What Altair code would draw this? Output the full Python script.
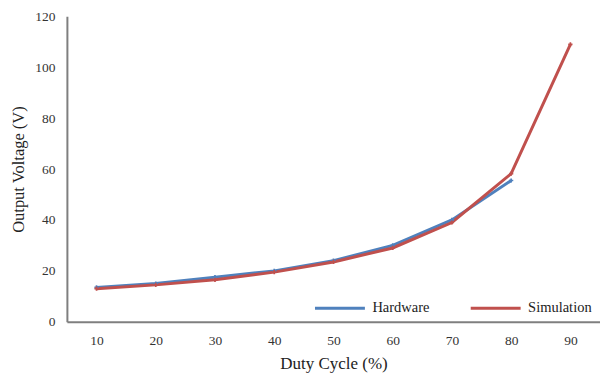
import altair as alt
import pandas as pd

duty = [10, 20, 30, 40, 50, 60, 70, 80, 90]
hardware = [13.5, 15, 17.5, 20, 24, 30, 40, 55.5]
simulation = [13, 14.5, 16.5, 19.5, 23.5, 29, 39, 58.2, 109]
series = ["Hardware", "Simulation"]
colors = ["#4F81BD", "#C0504D"]
y_ticks = [0, 20, 40, 60, 80, 100, 120]

rows = []
for d, v in zip(duty, hardware):
    rows.append({"duty": d, "value": v, "series": "Hardware"})
for d, v in zip(duty, simulation):
    rows.append({"duty": d, "value": v, "series": "Simulation"})
df = pd.DataFrame(rows)

font = "Liberation Serif"

chart = alt.Chart(df).mark_line(
    strokeWidth=3,
    point=alt.OverlayMarkDef(shape="cross", size=18, filled=True),
).encode(
    x=alt.X("duty:O", sort=duty,
            axis=alt.Axis(title="Duty Cycle (%)", labelAngle=0, ticks=False,
                          labelPadding=12, titlePadding=8, domainColor="#7f7f7f",
                          domainWidth=2, labelFontSize=13.5,
                          titleFontSize=17, titleFontWeight="normal",
                          labelColor="#333333", titleColor="#222222", grid=False),
            scale=alt.Scale(paddingInner=0, paddingOuter=0.5)),
    y=alt.Y("value:Q",
            scale=alt.Scale(domain=[0, 120], nice=False),
            axis=alt.Axis(title="Output Voltage (V)", values=y_ticks, ticks=False,
                          labelPadding=12, titlePadding=8, domainColor="#7f7f7f",
                          domainWidth=2, labelFontSize=13.5,
                          titleFontSize=16.5, titleFontWeight="normal",
                          labelColor="#333333", titleColor="#222222", grid=False)),
    color=alt.Color("series:N", sort=series,
                    scale=alt.Scale(domain=series, range=colors),
                    legend=alt.Legend(title=None, orient="none", direction="horizontal",
                                      legendX=247, legendY=266, symbolType="stroke",
                                      symbolSize=2500, symbolStrokeWidth=3,
                                      labelFontSize=14.5,
                                      labelColor="#222222", columnPadding=34,
                                      labelOffset=6)),
    order=alt.Order("duty:Q"),
).properties(
    width=534, height=306,
    autosize=alt.AutoSizeParams(type="none"),
    padding={"left": 59, "top": 8, "right": 0, "bottom": 57},
).configure(
    font=font
).configure_axis(
    labelFont=font, titleFont=font
).configure_legend(
    labelFont=font
).configure_view(stroke=None)

chart.save("out.html", embed_options={"renderer": "svg", "actions": False})
